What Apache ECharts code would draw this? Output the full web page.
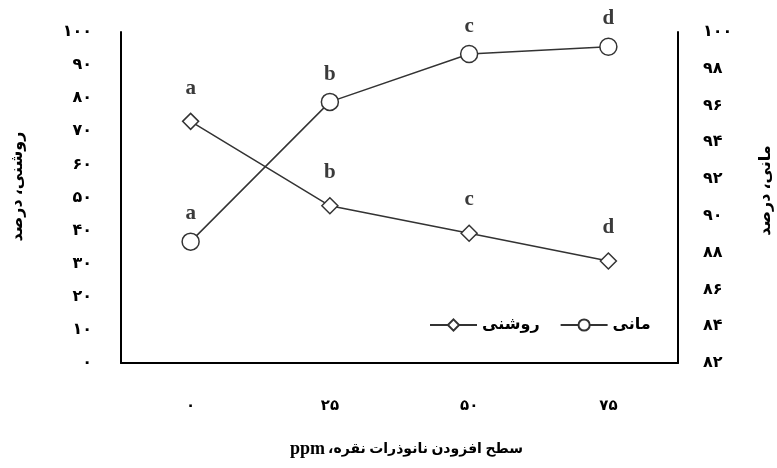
<!DOCTYPE html>
<html>
<head>
<meta charset="utf-8">
<script src="https://cdn.jsdelivr.net/npm/echarts@6/dist/echarts.min.js"></script>
<style>
  html, body { margin: 0; padding: 0; background: #fff; }
  #main { width: 777px; height: 468px; }
</style>
</head>
<body>
<div id="main"></div>
<script>
// silver nanoparticle level, ppm
var categories = ['۰', '۲۵', '۵۰', '۷۵'];
var brightness = [73, 47.5, 39.2, 30.8];     // روشنی (left axis)
var brightLetters = ['a', 'b', 'c', 'd'];
var stability = [88.6, 96.2, 98.8, 99.2];    // مانی (right axis)
var stabLetters = ['a', 'b', 'c', 'd'];
var leftTickLabels = ['۰', '۱۰', '۲۰', '۳۰', '۴۰', '۵۰', '۶۰', '۷۰', '۸۰', '۹۰', '۱۰۰'];
var rightTickLabels = ['۸۲', '۸۴', '۸۶', '۸۸', '۹۰', '۹۲', '۹۴', '۹۶', '۹۸', '۱۰۰'];

var chart = echarts.init(document.getElementById('main'));
var font = 'Liberation Serif, DejaVu Sans, serif';
var lineColor = '#333';

var option = {
  backgroundColor: '#fff',
  animation: false,
  textStyle: { fontFamily: font },
  grid: { left: 121, right: 99, top: 32, bottom: 105, outerBoundsMode: 'none' },
  legend: {
    data: ['روشنی', 'مانی'],
    left: 424,
    top: 312,
    itemWidth: 47,
    itemHeight: 14,
    itemGap: 20,
    textStyle: { fontSize: 16, fontWeight: 'bold', color: '#000', padding: [8, 0, 0, 0] }
  },
  xAxis: {
    type: 'category',
    data: categories,
    // RLM keeps the Persian comma next to نقره; ppm sits on the left
    name: '{p|ppm} {f|سطح افزودن نانوذرات نقره،\u200F}',
    nameLocation: 'middle',
    nameGap: 77,
    nameTextStyle: {
      color: '#000', padding: [0, 0, 0, 14],
      rich: {
        p: { fontSize: 18, fontWeight: 'bold', color: '#000', fontFamily: 'Liberation Serif' },
        f: { fontSize: 14, fontWeight: 'bold', color: '#000', fontFamily: font }
      }
    },
    axisLine: { lineStyle: { color: '#000', width: 2 } },
    axisTick: { show: false },
    axisLabel: { margin: 36, fontSize: 15, fontWeight: 'bold', color: '#000' }
  },
  yAxis: [
    {
      type: 'value',
      min: 0,
      max: 100,
      interval: 10,
      position: 'left',
      name: 'روشنی، درصد',
      nameLocation: 'middle',
      nameGap: 95,
      nameTextStyle: { fontSize: 16, fontWeight: 'bold', color: '#000', padding: [0, 0, 0, 22] },
      axisLine: { show: true, lineStyle: { color: '#000', width: 2 } },
      axisTick: { show: false },
      splitLine: { show: false },
      axisLabel: {
        margin: 29, fontSize: 16, fontWeight: 'bold', color: '#000',
        formatter: function (v) { return leftTickLabels[Math.round(v / 10)]; }
      }
    },
    {
      type: 'value',
      min: 82,
      max: 100,
      interval: 2,
      position: 'right',
      name: 'مانی، درصد',
      nameLocation: 'middle',
      nameRotate: 90,
      nameGap: 80,
      nameTextStyle: { fontSize: 16, fontWeight: 'bold', color: '#000', padding: [0, 0, 0, 14] },
      axisLine: { show: true, lineStyle: { color: '#000', width: 2 } },
      axisTick: { show: false },
      splitLine: { show: false },
      axisLabel: {
        margin: 25, fontSize: 16, fontWeight: 'bold', color: '#000',
        formatter: function (v) { return rightTickLabels[Math.round((v - 82) / 2)]; }
      }
    }
  ],
  series: [
    {
      name: 'روشنی',
      type: 'line',
      yAxisIndex: 0,
      data: brightness,
      symbol: 'diamond',
      symbolSize: 16,
      lineStyle: { color: lineColor, width: 1.5 },
      itemStyle: { color: '#fff', borderColor: lineColor, borderWidth: 1.5 },
      label: {
        show: true, position: 'top', distance: 14,
        fontSize: 21, fontWeight: 'bold', color: '#3a3a3a', fontFamily: font,
        formatter: function (p) { return brightLetters[p.dataIndex]; }
      },
      z: 3
    },
    {
      name: 'مانی',
      type: 'line',
      yAxisIndex: 1,
      data: stability,
      symbol: 'circle',
      symbolSize: 17,
      lineStyle: { color: lineColor, width: 1.5 },
      itemStyle: { color: '#fff', borderColor: lineColor, borderWidth: 1.5 },
      label: {
        show: true, position: 'top', distance: 8,
        fontSize: 21, fontWeight: 'bold', color: '#3a3a3a', fontFamily: font,
        formatter: function (p) { return stabLetters[p.dataIndex]; }
      },
      z: 3
    }
  ]
};

chart.setOption(option);
</script>
</body>
</html>
